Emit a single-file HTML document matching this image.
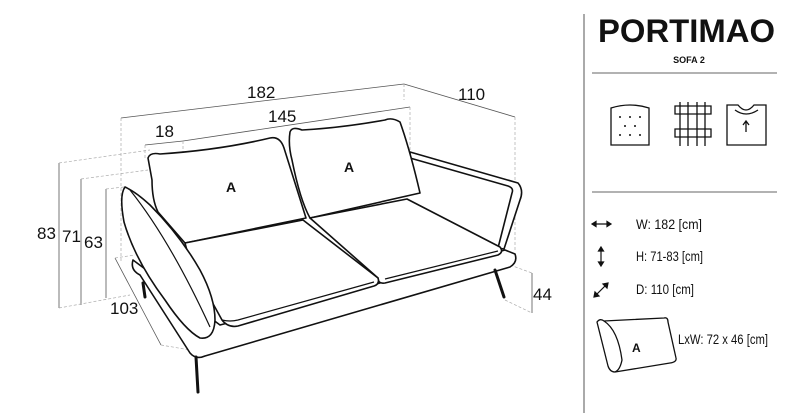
<!DOCTYPE html>
<html><head><meta charset="utf-8"><style>
body{margin:0;background:#fff;width:799px;height:413px;overflow:hidden}
svg{display:block}
text{font-family:"Liberation Sans",sans-serif;fill:#111}
</style></head><body>
<svg width="799" height="413" viewBox="0 0 799 413" xmlns="http://www.w3.org/2000/svg">
<g stroke="#555" stroke-width="0.8" fill="none">
<line x1="121" y1="118" x2="404" y2="84"/>
<line x1="404" y1="84" x2="515" y2="117"/>
<line x1="183" y1="141" x2="410" y2="107"/>
<line x1="145" y1="145" x2="183" y2="141"/>
<line x1="59" y1="163" x2="59" y2="308"/>
<line x1="81" y1="179" x2="81" y2="305"/>
<line x1="106" y1="189" x2="106" y2="298"/>
<line x1="115" y1="258" x2="161" y2="345"/>
<line x1="532" y1="273" x2="532" y2="313"/>
<line x1="272" y1="218" x2="338" y2="287"/>
</g>
<g stroke="#aaa" stroke-width="0.7" fill="none" stroke-dasharray="3 2">
<line x1="121" y1="118" x2="121" y2="262"/>
<line x1="183" y1="141" x2="183" y2="240"/>
<line x1="145" y1="145" x2="145" y2="160"/>
<line x1="404" y1="84" x2="404" y2="100"/>
<line x1="410" y1="107" x2="410" y2="160"/>
<line x1="515" y1="117" x2="515" y2="250"/>
<line x1="59" y1="163" x2="150" y2="150"/>
<line x1="81" y1="179" x2="148" y2="170"/>
<line x1="106" y1="189" x2="124" y2="187"/>
<line x1="59" y1="308" x2="130" y2="295"/>
<line x1="115" y1="258" x2="135" y2="255"/>
<line x1="161" y1="345" x2="190" y2="350"/>
<line x1="510" y1="265" x2="532" y2="273"/>
<line x1="505" y1="300" x2="532" y2="313"/>
</g>
<g font-size="17">
<text x="247" y="98">182</text>
<text x="458" y="100">110</text>
<text x="268" y="122">145</text>
<text x="155" y="137">18</text>
<text x="37" y="239">83</text>
<text x="62" y="242">71</text>
<text x="84" y="248">63</text>
<text x="110" y="314">103</text>
<text x="533" y="300">44</text>
<text x="245" y="261">69/85</text>
</g>
<g stroke="#111" stroke-width="1.6" fill="#fff" stroke-linejoin="round">
<path d="M410,152 L518,183 Q524,190 520,200 L504,249 L498,248 L512,193 Q514,188 508,186 L410,158 Z"/>
<path d="M133,260 Q130,270 140,275 L190,353 Q196,360 205,356 L510,267 Q518,262 515,254 L505,250 L220,325 Z"/>
<path d="M148,158 Q150,152 160,154 Q220,150 270,138 Q280,136 284,148 L306,218 L185,243 L158,212 Q152,200 152,180 Z"/>
<path d="M290,132 Q292,126 302,130 Q340,128 385,120 Q392,117 400,122 Q410,150 420,193 L310,218 Q300,200 292,160 Q288,145 290,132 Z"/>
<path d="M310,218 L407,199 L500,247 Q504,252 498,255 L385,283 Q378,284 378,278 Z"/>
<path d="M185,243 L303,220 L378,278 Q380,284 374,286 L238,326 Q228,328 222,320 L190,262 Z"/>
<path d="M125,187 Q119,195 124,222 Q135,260 165,300 Q185,330 200,338 Q214,340 215,320 Q215,298 200,270 Q180,235 150,205 Q136,192 125,187 Z"/>
</g>
<g stroke="#111" stroke-width="1.2" fill="none">
<path d="M130,190 Q170,240 210,327"/>
<path d="M222,320 Q230,322 238,320 L374,282"/>
<path d="M385,279 L498,251"/>
</g>
<g stroke="#111" stroke-width="3" stroke-linecap="round">
<line x1="196" y1="357" x2="198" y2="392"/>
<line x1="495" y1="270" x2="504" y2="297"/>
<line x1="143" y1="283" x2="145" y2="297"/>
</g>
<g font-size="14" font-weight="bold">
<text x="226" y="192">A</text>
<text x="344" y="172">A</text>
</g>
<line x1="584" y1="14" x2="584" y2="413" stroke="#555" stroke-width="1"/>
<text x="598" y="42" font-size="32" font-weight="bold" textLength="177" lengthAdjust="spacingAndGlyphs">PORTIMAO</text>
<text x="689" y="63" font-size="9" font-weight="bold" text-anchor="middle">SOFA 2</text>
<line x1="592" y1="73" x2="777" y2="73" stroke="#666"/>
<line x1="592" y1="192" x2="777" y2="192" stroke="#666"/>
<g stroke="#111" stroke-width="1.3" fill="none">
<path d="M611,108 Q630,102 649,108 L649,145 L611,145 Z"/>
<path d="M675,106 h36 v8 h-36 z M675,129 h36 v8 h-36 z M680,102 v44 M688,102 v44 M697,102 v44 M705,102 v44"/>
<path d="M727,105 L738,105 Q746,115 754,105 L766,105 L766,145 L727,145 Z"/>
<path d="M735,110 Q746,118 758,110"/>
<path d="M746,132 L746,122 M743,125 L746,121 L749,125"/>
</g>
<g fill="#111">
<circle cx="620" cy="117" r="1"/><circle cx="630" cy="117" r="1"/><circle cx="640" cy="117" r="1"/>
<circle cx="625" cy="126" r="1"/><circle cx="635" cy="126" r="1"/>
<circle cx="620" cy="135" r="1"/><circle cx="630" cy="135" r="1"/><circle cx="640" cy="135" r="1"/>
</g>
<g stroke="#111" stroke-width="1.2" fill="#111">
<line x1="593" y1="224" x2="610" y2="224"/>
<path d="M592,224 l4,-2.5 v5 z M611,224 l-4,-2.5 v5 z"/>
<line x1="601" y1="248" x2="601" y2="265"/>
<path d="M601,247 l-2.5,4 h5 z M601,266 l-2.5,-4 h5 z"/>
<line x1="595" y1="296" x2="607" y2="284"/>
<path d="M594,297 l1,-5 l4,4 z M608,283 l-1,5 l-4,-4 z"/>
</g>
<g font-size="14">
<text x="636" y="229" textLength="66" lengthAdjust="spacingAndGlyphs">W: 182 [cm]</text>
<text x="636" y="261" textLength="67" lengthAdjust="spacingAndGlyphs">H: 71-83 [cm]</text>
<text x="636" y="294" textLength="58" lengthAdjust="spacingAndGlyphs">D: 110 [cm]</text>
<text x="678" y="344" textLength="90" lengthAdjust="spacingAndGlyphs">LxW: 72 x 46 [cm]</text>
</g>
<g stroke="#111" stroke-width="1.3" fill="#fff">
<path d="M597,322 Q600,318 604,321 L664,318 Q668,317 668,322 L676,358 Q677,362 670,363 L615,372 Q610,372 608,366 Z"/>
<path d="M604,321 Q618,330 622,360 Q620,370 615,372" fill="none"/>
</g>
<text x="632" y="352" font-size="12" font-weight="bold">A</text>
</svg>
</body></html>
